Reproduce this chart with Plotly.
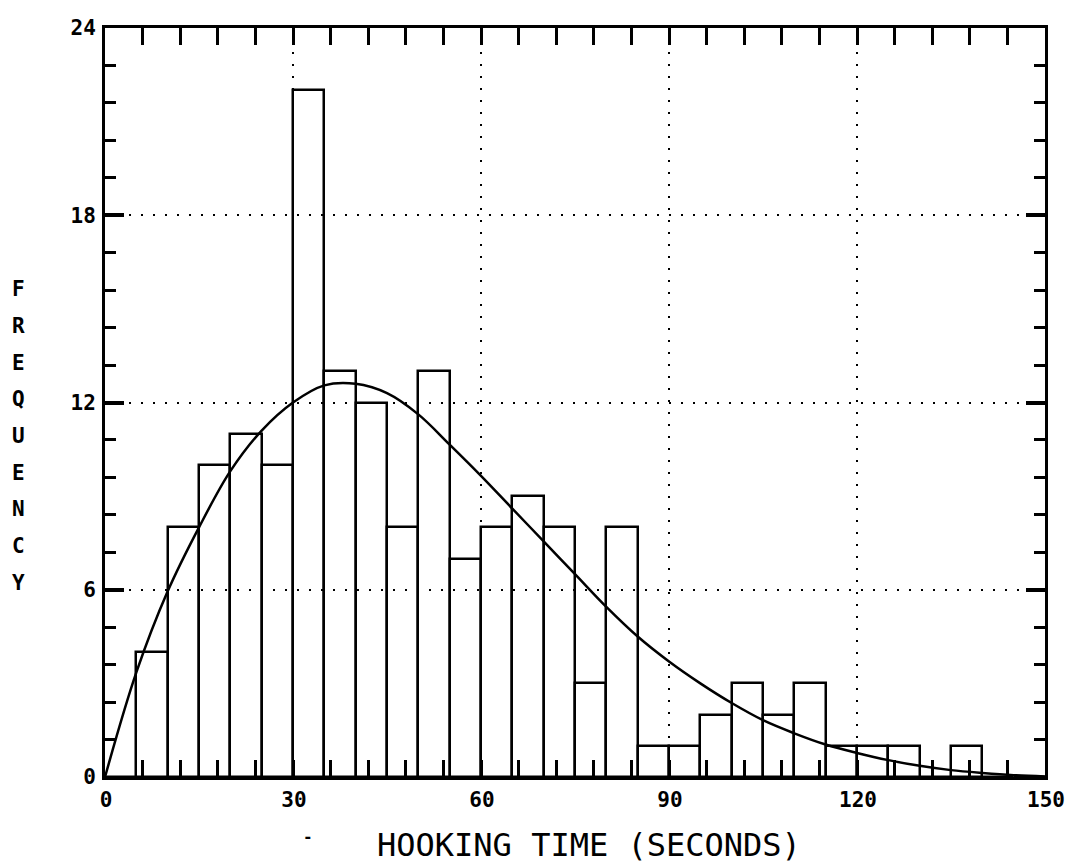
import plotly.graph_objects as go

# histogram of hooking times, 5 s bins (left edges) and counts
bin_start = [0, 5, 10, 15, 20, 25, 30, 35, 40, 45, 50, 55, 60, 65, 70, 75,
             80, 85, 90, 95, 100, 105, 110, 115, 120, 125, 130, 135, 140, 145]
counts = [0, 4, 8, 10, 11, 10, 22, 13, 12, 8, 13, 7, 8, 9, 8, 3,
          8, 1, 1, 2, 3, 2, 3, 1, 1, 1, 0, 1, 0, 0]

# fitted density curve
curve_x = [0, 5, 10, 15, 20, 25, 30, 35, 40, 45, 50, 55, 60, 65, 70, 75, 80,
           85, 90, 95, 100, 105, 110, 115, 120, 125, 130, 135, 140, 145, 150]
curve_y = [0, 3.35, 5.95, 8.0, 9.8, 11.1, 12.0, 12.55, 12.6, 12.3, 11.62,
           10.65, 9.65, 8.6, 7.55, 6.5, 5.45, 4.5, 3.7, 3.0, 2.37, 1.82, 1.4,
           1.04, 0.77, 0.54, 0.36, 0.22, 0.13, 0.06, 0.02]

x_ticks = [0, 30, 60, 90, 120, 150]
y_ticks = [0, 6, 12, 18, 24]

W, H = 1066, 865
L, R, T, B = 105, 21, 28, 88
PW, PH = W - L - R, H - T - B


def px_x(p):
    return (p - L) / PW


def px_y(p):
    return (H - B - p) / PH


fig = go.Figure()
fig.add_trace(go.Bar(
    x=bin_start, y=counts, width=5, offset=0,
    marker=dict(color="rgba(0,0,0,0)", line=dict(color="black", width=2.5)),
    hoverinfo="x+y",
))
fig.add_trace(go.Scatter(
    x=curve_x, y=curve_y, mode="lines", line_shape="spline",
    line=dict(color="black", width=2.5, smoothing=1),
))

tickfont = dict(family="DejaVu Sans Mono", size=21, color="black", weight="bold")
axis_common = dict(
    showline=True, linecolor="black", linewidth=3, mirror="allticks",
    ticks="inside", tickcolor="black", zeroline=False, automargin=False,
    showgrid=True, gridcolor="black", gridwidth=2, griddash="2px,10px",
    tickfont=tickfont, ticklabeloverflow="allow",
)

fig.update_layout(
    width=W, height=H, autosize=False,
    margin=dict(l=L, r=R, t=T, b=B),
    paper_bgcolor="white", plot_bgcolor="white",
    showlegend=False, bargap=0,
    xaxis=dict(
        **axis_common, range=[0, 150], tickvals=x_ticks, ticklen=17, tickwidth=2.5,
        ticklabelshift=1, ticklabelstandoff=2,
        minor=dict(dtick=6, tick0=0, ticks="inside", ticklen=17, tickwidth=2.5,
                   tickcolor="black", showgrid=False),
    ),
    yaxis=dict(
        **axis_common, range=[0, 24], tickvals=y_ticks, ticklen=19, tickwidth=4,
        ticklabelstandoff=2,
        minor=dict(dtick=1.2, tick0=0, ticks="inside", ticklen=11, tickwidth=2.5,
                   tickcolor="black", showgrid=False),
    ),
)

# x title, letter-spaced plotter text
fig.add_annotation(
    text="HOOKING TIME (SECONDS)", x=px_x(589), y=px_y(845),
    xref="paper", yref="paper", xanchor="center", yanchor="middle",
    showarrow=False,
    font=dict(family="DejaVu Sans Mono", size=32, color="black"),
)
fig.add_annotation(
    text="-", x=px_x(308), y=px_y(836), xref="paper", yref="paper",
    xanchor="center", yanchor="middle", showarrow=False,
    font=dict(family="DejaVu Sans Mono", size=16, color="black", weight="bold"),
)

# y title, stacked letters
for i, ch in enumerate("FREQUENCY"):
    fig.add_annotation(
        text=ch, x=px_x(18), y=px_y(289 + i * 36.75), xref="paper", yref="paper",
        xanchor="center", yanchor="middle", showarrow=False,
        font=dict(family="DejaVu Sans Mono", size=21, color="black", weight="bold"),
    )

fig.write_html(
    "out.html",
    config={"displayModeBar": False, "responsive": False},
    post_script="document.body.style.margin='0';document.body.style.overflow='hidden';",
)
